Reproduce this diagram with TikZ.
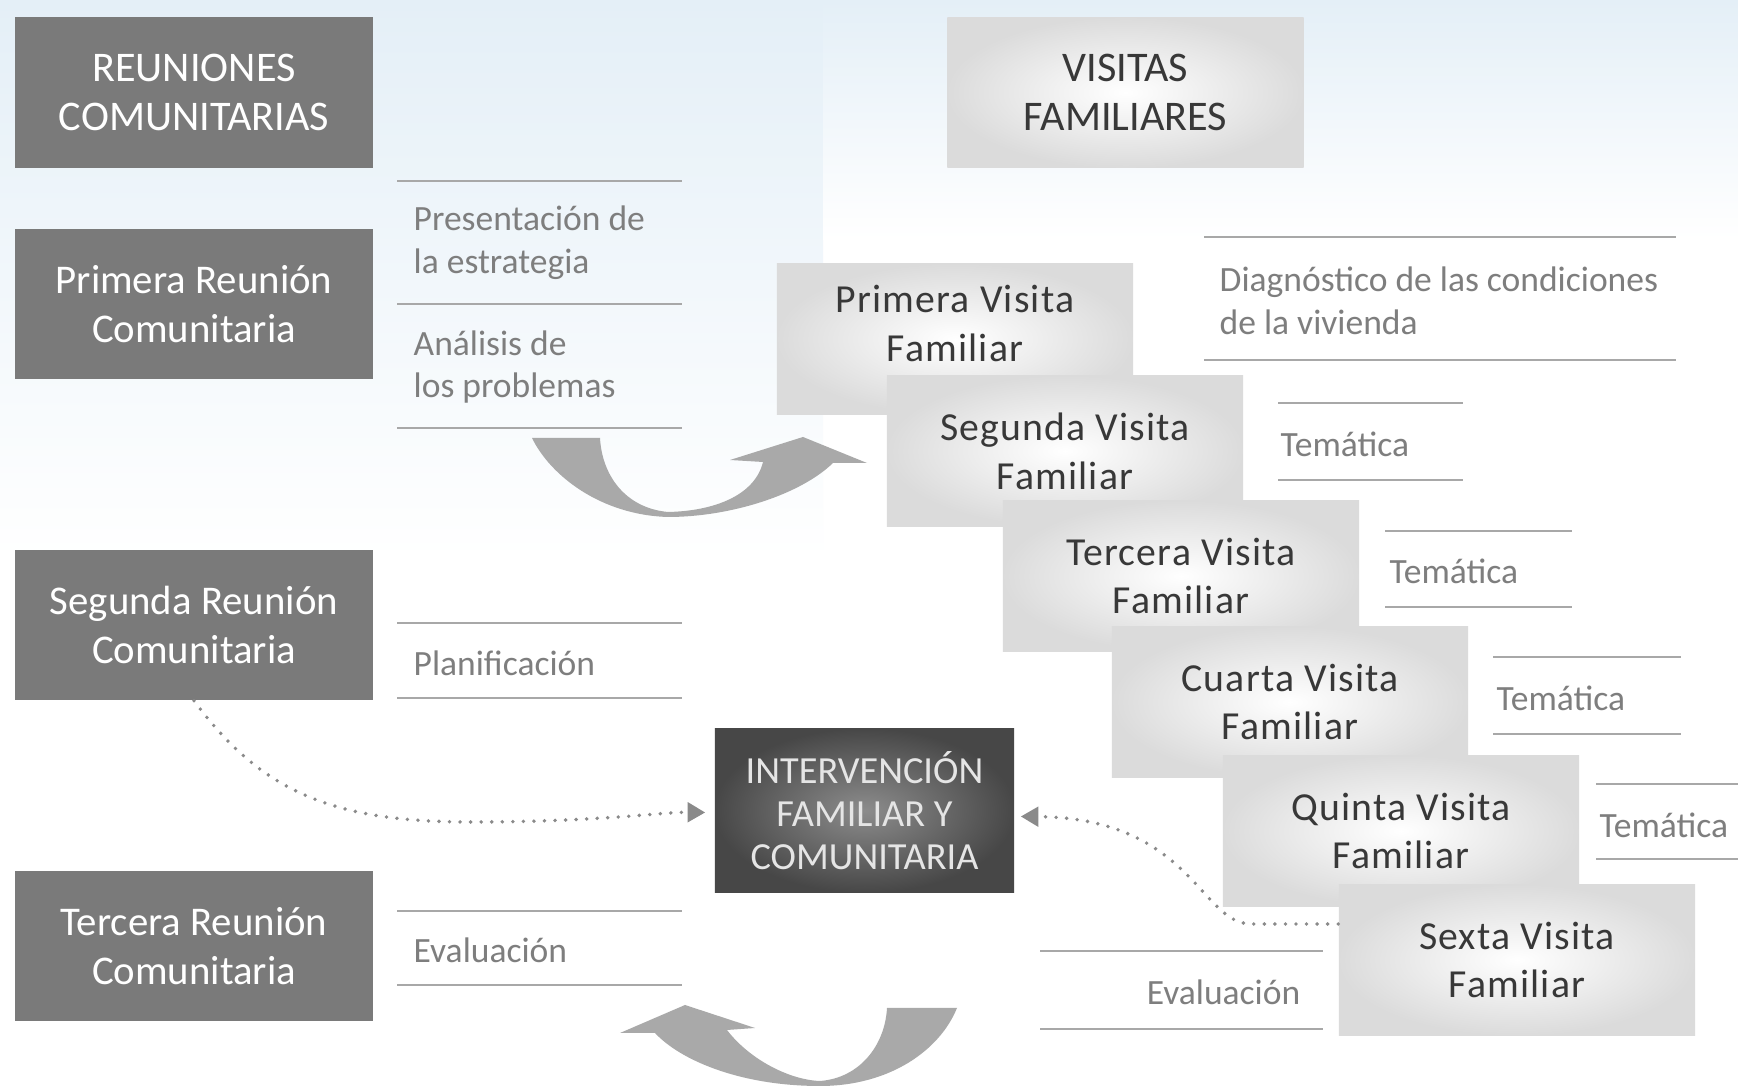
\documentclass[tikz,border=0pt]{standalone}
\usepackage{fontspec}
\setmainfont{Carlito}
\newfontfamily\visitfont[LetterSpace=3]{Carlito}
\usetikzlibrary{arrows.meta,calc}

\definecolor{reugray}{HTML}{7A7A7A}
\definecolor{rulegray}{HTML}{A8A8A8}
\definecolor{descgray}{HTML}{7E7E7E}
\definecolor{bigarrow}{HTML}{A9A9A9}
\definecolor{dotgray}{HTML}{8A8A8A}
\definecolor{skyblue}{HTML}{E4EFF7}

\tikzset{
    reunion/.style={fill=reugray, text=white, minimum width=3.57cm, minimum height=1.5cm,
        inner sep=0pt, align=center, font=\fontsize{11.6}{13.9}\selectfont},
    visita/.style={inner color=white, outer color=black!14, text=black!78,
        minimum width=3.56cm, minimum height=1.5cm, inner sep=0pt, align=center,
        font=\visitfont\fontsize{11.3}{13.9}\selectfont},
    interv/.style={inner color=black!45, outer color=black!72, text=black!10,
        minimum width=2.99cm, minimum height=1.63cm, inner sep=0pt, align=center,
        font=\fontsize{10.9}{12.3}\selectfont},
    desc/.style={text=descgray, align=left, inner sep=0pt, font=\fontsize{10.1}{12.2}\selectfont},
    sepline/.style={draw=rulegray, line width=0.6pt},
    dotlink/.style={draw=dotgray, line width=1.1pt, line cap=round, dash pattern=on 0pt off 3pt,
        -{Triangle[length=5pt,width=5.5pt]}}
}

\begin{document}
\begin{tikzpicture}[x=0.01cm, y=-0.01cm]
            \useasboundingbox (0,0) rectangle (1738,1086);
            \fill[white] (0,0) rectangle (1738,1086);
            \shade[top color=skyblue, bottom color=white] (0,0) rectangle (823,560);
            \shade[top color=skyblue, bottom color=white] (823,0) rectangle (1738,240);

            % reuniones comunitarias
            \node[reunion, font=\fontsize{12}{13.9}\selectfont] (r0) at (194,92.5) {REUNIONES\\COMUNITARIAS};
            \node[reunion] (r1) at (194,304) {Primera Reunión\\Comunitaria};
            \node[reunion] (r2) at (194,625) {Segunda Reunión\\Comunitaria};
            \node[reunion] (r3) at (194,946) {Tercera Reunión\\Comunitaria};

            \draw[sepline] (397,181) -- (682,181);
            \draw[sepline] (397,304) -- (682,304);
            \draw[sepline] (397,428) -- (682,428);
            \node[desc, anchor=west] (d1) at (413,243) {Presentación de\\la estrategia};
            \node[desc, anchor=west] (d2) at (413,367) {Análisis de\\los problemas};

            \draw[sepline] (397,623) -- (682,623);
            \draw[sepline] (397,698) -- (682,698);
            \node[desc, anchor=west] (d3) at (413,663) {Planificación};

            \draw[sepline] (397,911) -- (682,911);
            \draw[sepline] (397,985) -- (682,985);
            \node[desc, anchor=west] (d4) at (413,950) {Evaluación};

            % visitas familiares
            \node[visita, font=\fontsize{12}{13.9}\selectfont] (v0) at (1125.5,92.5) {VISITAS\\FAMILIARES};
            \node[visita, text depth=0.32cm] (v1) at (955,339) {Primera Visita\\Familiar};
            \node[visita] (v2) at (1065,451) {Segunda Visita\\Familiar};
            \node[visita] (v3) at (1181,576) {Tercera Visita\\Familiar};
            \node[visita] (v4) at (1290,702) {Cuarta Visita\\Familiar};
            \node[visita] (v5) at (1401,831) {Quinta Visita\\Familiar};
            \node[visita] (v6) at (1517,960) {Sexta Visita\\Familiar};

            \draw[sepline] (1204,237) -- (1676,237);
            \draw[sepline] (1204,360) -- (1676,360);
            \node[desc, anchor=west] (t1) at (1219,301) {Diagnóstico de las condiciones\\de la vivienda};

            \draw[sepline] (1278,403) -- (1463,403);
            \draw[sepline] (1278,480) -- (1463,480);
            \node[desc, anchor=west] (t2) at (1280,444) {Temática};

            \draw[sepline] (1385,531) -- (1572,531);
            \draw[sepline] (1385,607) -- (1572,607);
            \node[desc, anchor=west] (t3) at (1389,571) {Temática};

            \draw[sepline] (1493,657) -- (1681,657);
            \draw[sepline] (1493,734) -- (1681,734);
            \node[desc, anchor=west] (t4) at (1496,698) {Temática};

            \draw[sepline] (1596,784) -- (1738,784);
            \draw[sepline] (1596,859) -- (1738,859);
            \node[desc, anchor=west] (t5) at (1599,825) {Temática};

            \draw[sepline] (1040,951) -- (1323,951);
            \draw[sepline] (1040,1029) -- (1323,1029);
            \node[desc, anchor=east] (t6) at (1301,992) {Evaluación};

            % intervencion
            \node[interv] (iv) at (864.5,810.5) {INTERVENCIÓN\\FAMILIAR Y\\COMUNITARIA};

            \coordinate (s6) at ($(v6.west)+(0,-36)$);
            \draw[dotlink] (r2.south) .. controls (260,790) and (330,822) .. (470,822)
                .. controls (600,822) and (660,812) .. ($(iv.west)+(-9,2)$);
            \draw[dotlink] (s6) -- (1250,924) .. controls (1200,922) and (1190,818) .. ($(iv.east)+(6,6)$);

            % flechas grandes
            \fill[bigarrow] (532,438) .. controls (550,475) and (600,515) .. (668,517)
                .. controls (730,517) and (800,495) .. (833,463) -- (867,463) -- (803,437)
                -- (730,460) -- (763,462) .. controls (755,495) and (715,511) .. (668,512)
                .. controls (625,508) and (602,475) .. (600,438) -- cycle;
            \fill[bigarrow] (957,1008) .. controls (940,1050) and (890,1086) .. (820,1086)
                .. controls (740,1086) and (680,1060) .. (655,1033) -- (620,1033) -- (685,1005)
                -- (755,1028) -- (727,1030) .. controls (750,1060) and (790,1080) .. (820,1081)
                .. controls (860,1078) and (885,1045) .. (887,1008) -- cycle;
\end{tikzpicture}
\end{document}
